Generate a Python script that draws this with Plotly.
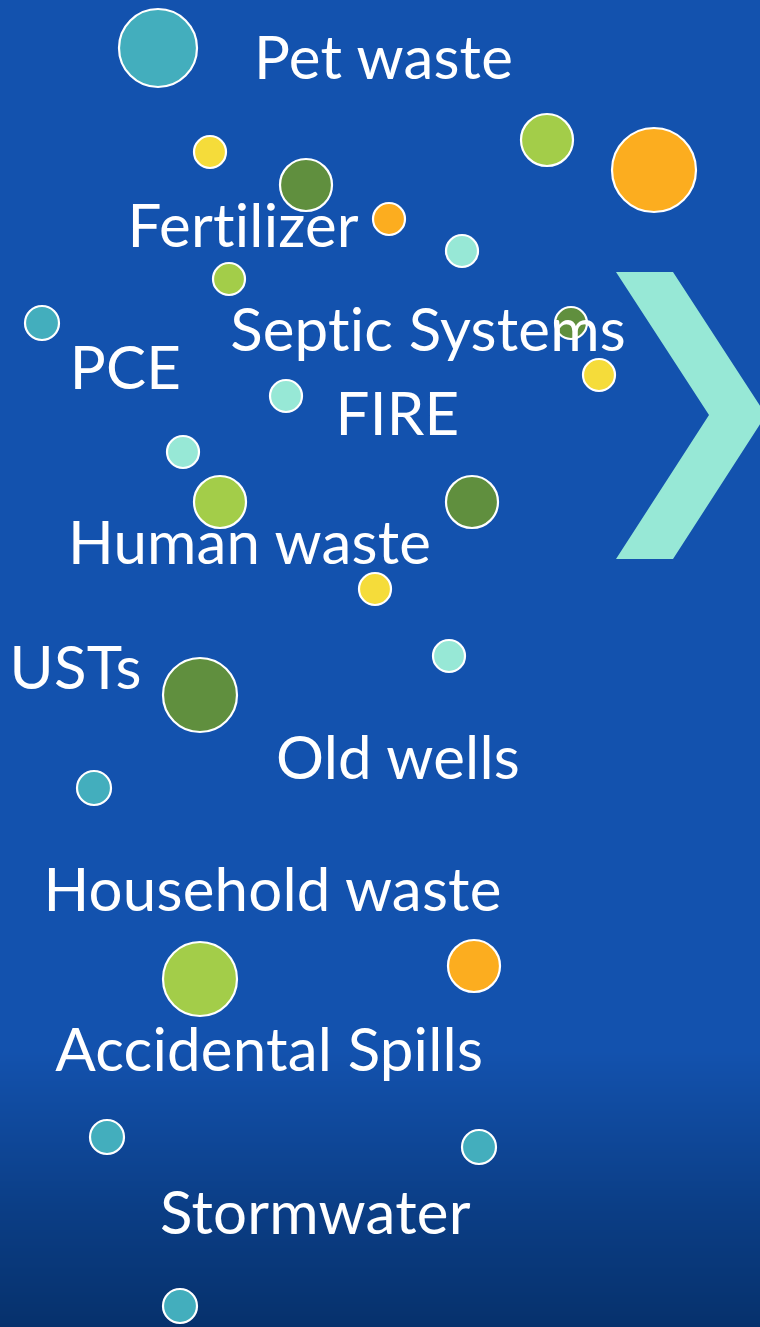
import plotly.graph_objects as go

W, H = 760, 1327

# Bubbles: centre x, centre y (pixels from top), diameter, colour group
bubble_x = [158, 210, 306, 547, 654, 389, 462, 229, 42, 571, 599, 286, 183, 220, 472, 375, 449, 200, 94, 200, 474, 107, 479, 180]
bubble_y = [48, 152, 185, 140, 170, 219, 251, 279, 323, 323, 375, 396, 452, 502, 502, 589, 656, 695, 788, 979, 966, 1137, 1147, 1306]
bubble_d = [78, 32, 52, 52, 84, 32, 32, 32, 34, 32, 32, 32, 32, 52, 52, 32, 32, 74, 34, 74, 52, 34, 34, 34]
bubble_c = ["teal", "yellow", "green", "lime", "orange", "orange", "mint", "lime", "teal", "green",
            "yellow", "mint", "mint", "lime", "green", "yellow", "mint", "green", "teal", "lime",
            "orange", "teal", "teal", "teal"]
palette = {"teal": "#43aebd", "yellow": "#f5dc3a", "green": "#608f3e", "lime": "#a3cd49",
           "orange": "#fcad1f", "mint": "#97e8d6"}

# Labels: text, left x, vertical centre y
label_text = ["Pet waste", "Fertilizer", "Septic Systems", "PCE", "FIRE", "Human waste", "USTs",
              "Old wells", "Household waste", "Accidental Spills", "Stormwater"]
label_x = [253, 126, 229, 68, 334, 67, 8, 275, 43, 55, 159]
label_y = [56, 224, 328, 366, 412, 541, 666, 756, 888, 1048, 1211]

# Chevron outline
chev_x = [616, 673, 766, 673, 616, 709]
chev_y = [272, 272, 415, 559, 559, 415]

# Background gradient stops (y from top, colour value)
bg_y = [0, 1050, 1130, 1210, 1327]
bg_v = [0.0, 0.0, 0.3, 0.62, 1.0]

fig = go.Figure()

fig.add_trace(go.Heatmap(
    x=[0, W], y=bg_y, z=[[v, v] for v in bg_v], zsmooth="best",
    colorscale=[[0, "#1352ae"], [1, "#06316c"]], showscale=False, hoverinfo="skip"))

path = "M " + " L ".join(f"{x},{y}" for x, y in zip(chev_x, chev_y)) + " Z"
fig.add_shape(type="path", path=path, xref="x", yref="y", fillcolor="#97e8d6",
              line=dict(width=0), layer="above")

fig.add_trace(go.Scatter(
    x=bubble_x, y=bubble_y, mode="markers",
    marker=dict(size=bubble_d, color=[palette[c] for c in bubble_c],
                line=dict(color="white", width=2.2), opacity=1),
    hoverinfo="skip", cliponaxis=False))

for t, x, y in zip(label_text, label_x, label_y):
    fig.add_annotation(x=x, y=y, text=t, showarrow=False, xanchor="left", yanchor="middle",
                       font=dict(family="Lato", size=60, color="white"))

fig.update_layout(
    width=W, height=H, margin=dict(l=0, r=0, t=0, b=0),
    paper_bgcolor="#1352ae", plot_bgcolor="#1352ae", showlegend=False,
    xaxis=dict(range=[0, W], visible=False, fixedrange=True),
    yaxis=dict(range=[H, 0], visible=False, fixedrange=True))

post = ("document.body.style.margin='0';document.body.style.overflow='hidden';"
        "var s=document.createElement('style');"
        "s.textContent='svg text{font-variant-ligatures:none !important;"
        "font-feature-settings:\"liga\" 0, \"clig\" 0 !important;letter-spacing:0.2px !important;}';"
        "document.head.appendChild(s);")
fig.write_html("out.html", config={"displayModeBar": False}, post_script=post)
